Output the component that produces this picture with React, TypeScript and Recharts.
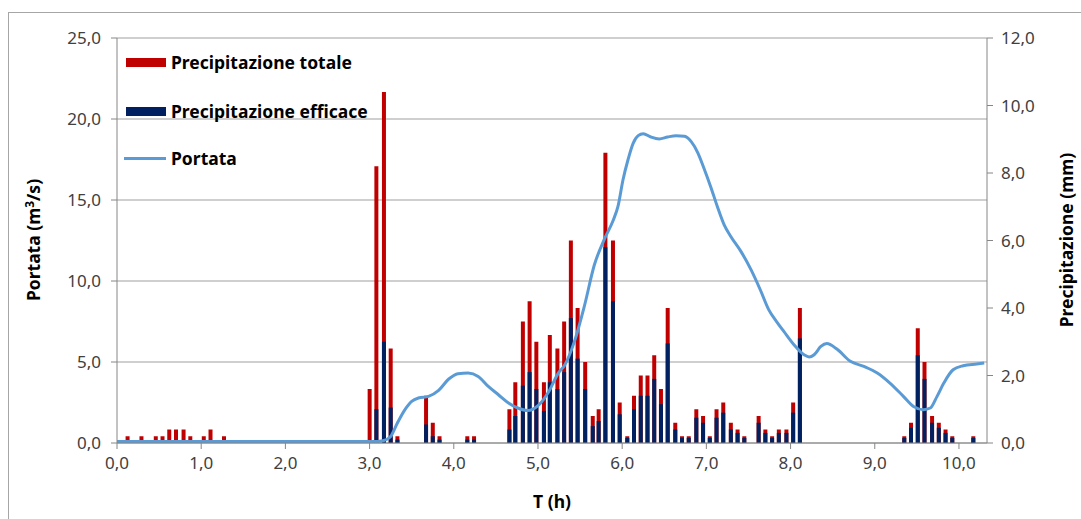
import React from 'react';
import { ComposedChart, Bar, Line, XAxis, YAxis, CartesianGrid } from 'recharts';

// precipitation bars: time (h), totale (mm), efficace (mm)
const rainTime = [
  0.125, 0.29, 0.46, 0.54, 0.62, 0.7, 0.79, 0.87, 1.03, 1.11, 1.27,
  3.0, 3.08, 3.17, 3.25, 3.33, 3.67, 3.75, 3.83, 4.16, 4.24,
  4.66, 4.73, 4.82, 4.9, 4.98, 5.07, 5.14, 5.23, 5.31, 5.39, 5.47, 5.56, 5.65, 5.72,
  5.8, 5.89, 5.97, 6.06, 6.14, 6.22, 6.3, 6.38, 6.46, 6.54, 6.63, 6.71, 6.79, 6.88,
  6.96, 7.04, 7.12, 7.2, 7.29, 7.37, 7.45, 7.62, 7.7, 7.78, 7.86, 7.95, 8.03, 8.11,
  9.35, 9.43, 9.51, 9.59, 9.68, 9.76, 9.84, 9.92, 10.17,
];
const rainTotal = [
  0.2, 0.2, 0.2, 0.2, 0.4, 0.4, 0.4, 0.2, 0.2, 0.4, 0.2,
  1.6, 8.2, 10.4, 2.8, 0.2, 1.4, 0.6, 0.2, 0.2, 0.2,
  1.0, 1.8, 3.6, 4.2, 3.0, 1.8, 3.2, 2.8, 3.6, 6.0, 4.0, 2.4, 0.8, 1.0,
  8.6, 6.0, 1.2, 0.2, 1.4, 2.0, 2.0, 2.6, 1.6, 4.0, 0.6, 0.2, 0.2, 1.0,
  0.8, 0.2, 1.0, 1.2, 0.6, 0.4, 0.2, 0.8, 0.4, 0.2, 0.4, 0.4, 1.2, 4.0,
  0.2, 0.6, 3.4, 2.4, 0.8, 0.6, 0.4, 0.2, 0.2,
];
const rainEff = [
  0, 0, 0, 0, 0, 0, 0, 0, 0, 0, 0,
  0, 1.0, 3.0, 1.05, 0.1, 0.55, 0.2, 0.1, 0.1, 0.1,
  0.4, 0.8, 1.7, 2.1, 1.6, 0.95, 1.8, 1.6, 2.1, 3.7, 2.5, 1.6, 0.5, 0.65,
  5.8, 4.2, 0.85, 0.15, 1.0, 1.4, 1.4, 1.9, 1.15, 2.95, 0.4, 0.15, 0.15, 0.75,
  0.6, 0.15, 0.75, 0.9, 0.4, 0.3, 0.15, 0.6, 0.3, 0.15, 0.3, 0.3, 0.9, 3.1,
  0.15, 0.45, 2.6, 1.9, 0.6, 0.45, 0.3, 0.15, 0.15,
];

// portata (m3/s)
const flowTime = [
  0, 3.1, 3.17, 3.25, 3.33, 3.42, 3.5, 3.58, 3.7, 3.82, 3.94, 4.05, 4.17, 4.29, 4.41,
  4.53, 4.65, 4.76, 4.88, 5.0, 5.12, 5.24, 5.32, 5.44, 5.55, 5.67, 5.79, 5.89, 5.95,
  6.01, 6.07, 6.13, 6.19, 6.25, 6.34, 6.44, 6.54, 6.64, 6.74, 6.82, 6.9, 6.97, 7.05,
  7.13, 7.21, 7.29, 7.41, 7.53, 7.64, 7.74, 7.84, 7.92, 8.04, 8.16, 8.22, 8.28, 8.36,
  8.43, 8.55, 8.71, 8.87, 9.03, 9.18, 9.34, 9.46, 9.58, 9.66, 9.74, 9.82, 9.93, 10.05,
  10.21, 10.3,
];
const flowValue = [
  0.1, 0.1, 0.15, 0.4, 1.23, 2.06, 2.57, 2.78, 2.88, 3.25, 3.95, 4.28, 4.32, 4.11, 3.49,
  2.98, 2.47, 2.16, 2.0, 2.3, 3.1, 4.3, 4.83, 6.38, 8.43, 11.0, 12.6, 13.7, 14.6,
  16.25, 17.5, 18.5, 18.97, 19.09, 18.89, 18.77, 18.89, 18.97, 18.93, 18.6, 17.9, 16.98, 15.84,
  14.6, 13.48, 12.75, 11.83, 10.7, 9.46, 8.23, 7.45, 6.89, 6.07, 5.45, 5.31, 5.45, 5.96,
  6.14, 5.8, 5.04, 4.73, 4.32, 3.7, 2.88, 2.26, 2.06, 2.16, 2.88, 3.7, 4.52, 4.77,
  4.88, 4.94,
];

const xTicks = [0, 1, 2, 3, 4, 5, 6, 7, 8, 9, 10];
const leftTicks = [0, 5, 10, 15, 20, 25];
const rightTicks = [0, 2, 4, 6, 8, 10, 12];

const rainData = rainTime.map((t, i) => ({ t, totale: rainTotal[i], efficace: rainEff[i] }));
const flowData = flowTime.map((t, i) => ({ t, portata: flowValue[i] }));

const fmt = (v: number) => v.toFixed(1).replace('.', ',');
const FONT = '"Noto Sans", sans-serif';
const tickStyle = { fill: '#404040', fontSize: 17, fontFamily: FONT };
const domainX: [number, number] = [0, 10.333];

const legendText: React.CSSProperties = {
  position: 'absolute', left: 171, fontWeight: 700, fontSize: 17.5, fontFamily: FONT,
  color: '#000', lineHeight: '22px', whiteSpace: 'nowrap',
};
const titleStyle: React.CSSProperties = {
  position: 'absolute', fontWeight: 700, fontSize: 17.5, fontFamily: FONT, whiteSpace: 'nowrap', color: '#000',
};

export default function App() {
  return (
    <div style={{ position: 'absolute', left: 0, top: 0, width: 1081, height: 519, background: '#fff', overflow: 'hidden' }}>
      <div style={{ position: 'absolute', left: 8, top: 12, width: 1200, height: 600, border: '1px solid #A6A6A6' }} />
      <div style={{ position: 'absolute', left: 0, top: 0 }}>
        <ComposedChart width={1081} height={519} data={rainData} margin={{ top: 38, right: 14, left: 0, bottom: 0 }}>
          <CartesianGrid yAxisId="left" vertical={false} stroke="#BFBFBF" strokeWidth={1.5} />
          <XAxis
            type="number"
            dataKey="t"
            domain={domainX}
            ticks={xTicks}
            allowDataOverflow
            tickFormatter={fmt}
            height={76}
            tick={tickStyle}
            tickSize={6}
            tickMargin={8}
            stroke="#868686"
          />
          <XAxis xAxisId="eff" type="number" dataKey="t" domain={domainX} allowDataOverflow hide />
          <XAxis xAxisId="line" type="number" dataKey="t" domain={domainX} allowDataOverflow hide />
          <YAxis
            yAxisId="left"
            domain={[0, 25]}
            ticks={leftTicks}
            tickFormatter={fmt}
            width={117}
            tick={tickStyle}
            tickSize={6}
            tickMargin={10}
            stroke="#868686"
          />
          <YAxis
            yAxisId="right"
            orientation="right"
            domain={[0, 12]}
            ticks={rightTicks}
            tickFormatter={fmt}
            width={80}
            tick={tickStyle}
            tickSize={6}
            tickMargin={8}
            stroke="#868686"
          />
          <Bar yAxisId="right" dataKey="totale" fill="#C00000" barSize={4} isAnimationActive={false} />
          <Bar xAxisId="eff" yAxisId="right" dataKey="efficace" fill="#002060" barSize={4} isAnimationActive={false} />
          <Line
            xAxisId="line"
            yAxisId="left"
            data={flowData}
            dataKey="portata"
            type="monotone"
            stroke="#5B9BD5"
            strokeWidth={3}
            dot={false}
            isAnimationActive={false}
          />
        </ComposedChart>
      </div>

      {/* legend */}
      <div style={{ position: 'absolute', left: 126, top: 58, width: 40, height: 9, background: '#C00000' }} />
      <div style={{ ...legendText, top: 51 }}>Precipitazione totale</div>
      <div style={{ position: 'absolute', left: 126, top: 107, width: 40, height: 9, background: '#002060' }} />
      <div style={{ ...legendText, top: 100 }}>Precipitazione efficace</div>
      <div style={{ position: 'absolute', left: 124, top: 157, width: 42, height: 3, background: '#5B9BD5' }} />
      <div style={{ ...legendText, top: 147 }}>Portata</div>

      {/* axis titles */}
      <div style={{ ...titleStyle, left: 33, top: 240, transform: 'translate(-50%, -50%) rotate(-90deg)' }}>
        Portata (m<sup style={{ fontSize: 12 }}>3</sup>/s)
      </div>
      <div style={{ ...titleStyle, left: 1066, top: 240, transform: 'translate(-50%, -50%) rotate(-90deg)' }}>
        Precipitazione (mm)
      </div>
      <div style={{ ...titleStyle, left: 552, top: 501, transform: 'translate(-50%, -50%)' }}>
        T (h)
      </div>
    </div>
  );
}
